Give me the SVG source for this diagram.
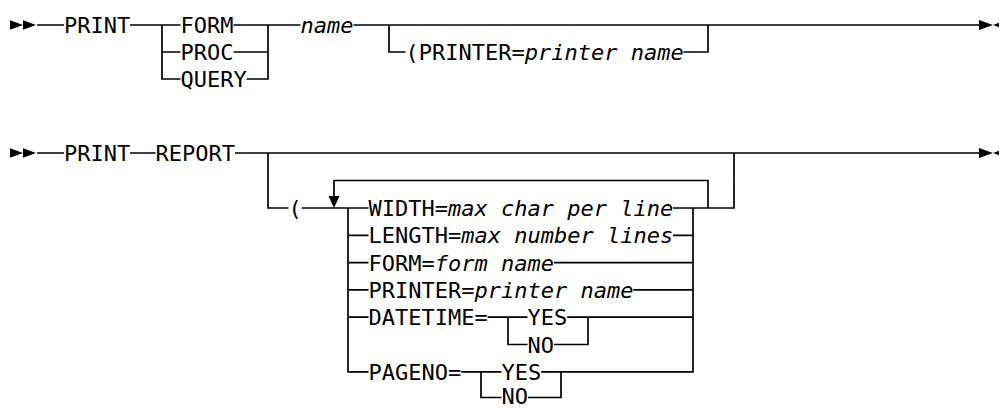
<svg xmlns="http://www.w3.org/2000/svg" xmlns:xlink="http://www.w3.org/1999/xlink" width="999" height="409" viewBox="0 0 999 409">
<style>
text{font-family:"DejaVu Sans Mono","Liberation Mono",monospace;font-size:22px;letter-spacing:0;fill:#000}
.i{font-style:italic}
.c path{fill:none;stroke:#000;stroke-width:1.7}
.a{fill:#000}
</style>
<defs>
<g id="startm"><polygon points="10,-4.8 23,0 10,4.8"/><polygon points="23,-4.8 36,0 23,4.8"/></g>
<g id="endm"><polygon points="979,-5 993,0 979,5"/><polygon points="1006,-5 993,0 1006,5"/></g>
</defs>
<rect width="999" height="409" fill="#fff"/>
<g id="connectors" class="c">
<path d="M37 25H64M130 25H180.5M162 25V79H180.5M162 52H180.5M233.5 25H300.5M233.5 52H268M246.7 79H268V25M353.5 25H979M389 25V52H405.5M683.5 52H708V25"/>
<path d="M37 153H64M130 153H155.5M235 153H979M268 153V208H288.5M301.7 208H368.5M334 196V180.5H708V208M673 208H734V153M348 208V371.8H368.5M348 235.3H368.5M348 262.6H368.5M348 289.9H368.5M348 317.2H368.5M673 235.3H693M554 262.6H693M633.3 289.9H693M487.7 317.2H527.5M508 317.2V344.5H527.5M567.2 317.2H693M554 344.5H588V317.2M461.2 371.8H501.5M481 371.8V397.5H501.5M541.2 371.8H693V208M528 397.5H561V371.8"/>
<polygon class="a" points="328.5,196 339.5,196 334,208"/>
</g>
<g id="start1" class="a"><use xlink:href="#startm" transform="translate(0,25)"/></g>
<g id="end1" class="a"><use xlink:href="#endm" transform="translate(0,25)"/></g>
<g id="start2" class="a"><use xlink:href="#startm" transform="translate(0,153)"/></g>
<g id="end2" class="a"><use xlink:href="#endm" transform="translate(0,153)"/></g>
<g id="print1"><text x="64" y="33">PRINT</text></g>
<g id="form"><text x="180.5" y="33">FORM</text></g>
<g id="proc"><text x="180.5" y="60">PROC</text></g>
<g id="query"><text x="180.5" y="87">QUERY</text></g>
<g id="name"><text x="300.5" y="33" class="i">name</text></g>
<g id="printer1"><text x="405.5" y="60">(PRINTER=<tspan class="i">printer name</tspan></text></g>
<g id="print2"><text x="64" y="161">PRINT</text></g>
<g id="report"><text x="155.5" y="161">REPORT</text></g>
<g id="paren"><text x="288.5" y="216">(</text></g>
<g id="width"><text x="368.5" y="216">WIDTH=<tspan class="i">max char per line</tspan></text></g>
<g id="length"><text x="368.5" y="243.3">LENGTH=<tspan class="i">max number lines</tspan></text></g>
<g id="form2"><text x="368.5" y="270.6">FORM=<tspan class="i">form name</tspan></text></g>
<g id="printer2"><text x="368.5" y="297.9">PRINTER=<tspan class="i">printer name</tspan></text></g>
<g id="datetime"><text x="368.5" y="325.2">DATETIME=</text></g>
<g id="dt-yes"><text x="527.5" y="325.2">YES</text></g>
<g id="dt-no"><text x="527.5" y="352.5">NO</text></g>
<g id="pageno"><text x="368.5" y="379.8">PAGENO=</text></g>
<g id="pg-yes"><text x="501.5" y="379.8">YES</text></g>
<g id="pg-no"><text x="501.5" y="404.3">NO</text></g>
</svg>
